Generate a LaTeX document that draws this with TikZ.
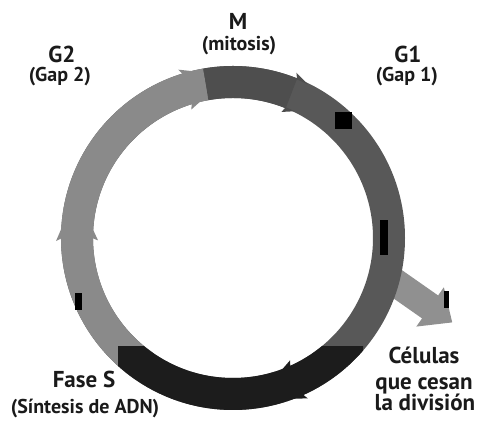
\documentclass[tikz,border=0pt]{standalone}
\usepackage{fontspec}
\setmainfont{PT Sans}
\usetikzlibrary{positioning,calc}
\definecolor{gdos}{HTML}{8A8A8A}
\definecolor{mfase}{HTML}{4E4E4E}
\definecolor{guno}{HTML}{585858}
\definecolor{sfase}{HTML}{1C1C1C}
\definecolor{salida}{HTML}{909090}
\definecolor{tinta}{HTML}{1A1A1A}
\tikzset{
  x=1pt, y=1pt,
  fase/.style={line width=32pt, draw=#1},
  etiq/.style={font=\fontsize{23}{26}\selectfont\bfseries, text=tinta, inner sep=0pt},
  subetiq/.style={font=\fontsize{20}{23}\selectfont\bfseries, text=tinta, inner sep=0pt},
  marca/.style={fill=black}
}
% barbs of the ring arrows (angle, colour)
\newcommand\ringbarb[2]{%
  \fill[#2] (#1:171) -- (#1+1:177) -- (#1-4:171) -- cycle;
  \fill[#2] (#1:141) -- (#1+1:135) -- (#1-4:141) -- cycle;}

\begin{document}
\begin{tikzpicture}
  \useasboundingbox (0,0) rectangle (480,422);
  \coordinate (C) at (233,184);

  % arrow leaving the cycle
  \begin{scope}[shift={(387.5,144.9)}, rotate=-35]
    \fill[salida] (0,14) -- (52,14) -- (52,24) -- (79,0) -- (52,-24) -- (52,-14) -- (0,-14) -- cycle;
  \end{scope}

  \begin{scope}[shift={(C)}]
    % ring
    \draw[fase=guno] (0,0) circle[radius=156pt];
    \draw[fase=gdos] (100:156) arc[start angle=100, end angle=235, radius=156pt];
    \draw[fase=mfase] (68:156) arc[start angle=68, end angle=100, radius=156pt];
    \begin{scope}
      \clip (-115,-109) rectangle (130,-200);
      \draw[fase=sfase] (0,0) circle[radius=156pt];
    \end{scope}
    % marks
    \fill[marca] (102,109) rectangle (119,126);
    \fill[marca] (147,-17) rectangle (155,18);
    \fill[marca] (-158,-72) rectangle (-151,-55);
    \fill[marca] (211,-70) rectangle (216,-53);
    % barbs
    \ringbarb{107}{gdos}
    \ringbarb{68}{mfase}
    \ringbarb{180}{gdos}
    \ringbarb{-66}{sfase}
  \end{scope}

  % labels
  \node[etiq] (m) at (238,401) {M};
  \node[subetiq] (mitosis) at (239,376) {(mitosis)};
  \node[etiq] (g2) at (62,368) {G2};
  \node[subetiq] (gap2) at (60,345) {(Gap 2)};
  \node[etiq] (g1) at (408,368) {G1};
  \node[subetiq] (gap1) at (407,345) {(Gap 1)};
  \node[etiq] (fases) at (84,43) {Fase S};
  \node[subetiq] (sintesis) at (85,13) {(Síntesis de ADN)};
  \node[etiq, anchor=base] (celulas) at (424,58) {Células};
  \node[etiq, anchor=base] (cesan) at (424,32) {que cesan};
  \node[etiq, anchor=base] (division) at (425,11) {la división};
\end{tikzpicture}
\end{document}
